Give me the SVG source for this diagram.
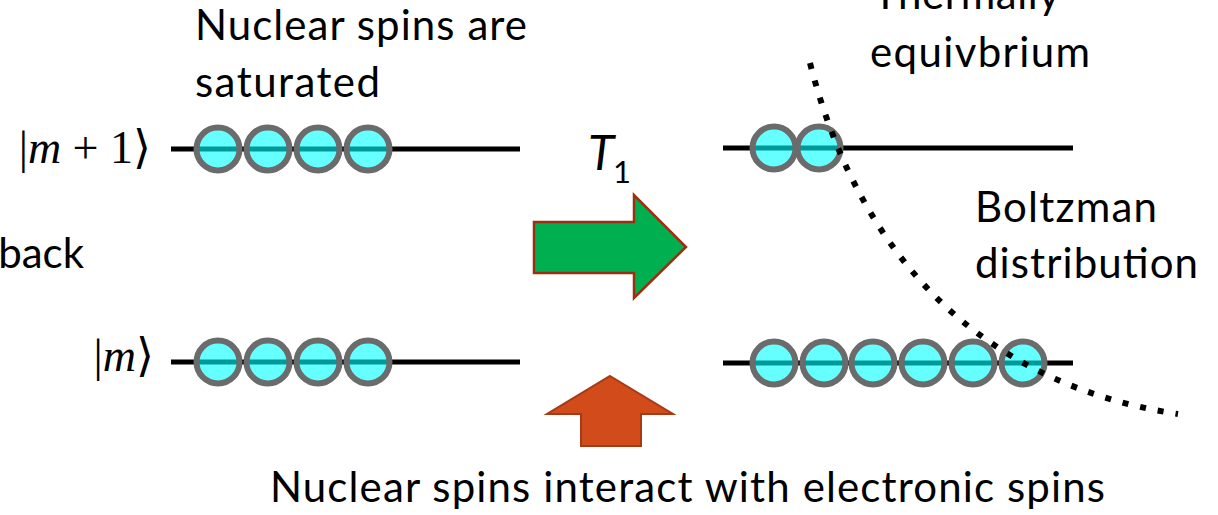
<svg xmlns="http://www.w3.org/2000/svg" width="1218" height="515" viewBox="0 0 1218 515">
  <style>
    .lbl { font-family: Lato, "Open Sans", sans-serif; font-size: 42px; fill: #000; }
    .ket { font-family: "Liberation Serif", "DejaVu Serif", serif; font-size: 46px; fill: #000; }
    .ket .it { font-style: italic; }
    .level { stroke: #000; stroke-width: 5; fill: none; }
    .spin { fill: #00ffff; fill-opacity: 0.6; stroke: #6b6b6b; stroke-width: 6; }
    .curve { fill: none; stroke: #000; stroke-width: 6; stroke-dasharray: 6 12; }
  </style>

  <!-- energy levels before relaxation -->
  <g id="levels-before">
    <line class="level" x1="171" y1="149" x2="520" y2="149"/>
    <line class="level" x1="171" y1="362" x2="520" y2="362"/>
  </g>

  <!-- energy levels after relaxation -->
  <g id="levels-after">
    <line class="level" x1="723" y1="148" x2="1073" y2="148"/>
    <line class="level" x1="723" y1="363" x2="1073" y2="363"/>
  </g>

  <!-- saturated populations: equal occupation of both levels -->
  <g id="spins-upper-saturated">
    <circle class="spin" cx="218" cy="149" r="21.5"/>
    <circle class="spin" cx="268" cy="149" r="21.5"/>
    <circle class="spin" cx="318" cy="149" r="21.5"/>
    <circle class="spin" cx="368" cy="149" r="21.5"/>
  </g>
  <g id="spins-lower-saturated">
    <circle class="spin" cx="218" cy="362" r="21.5"/>
    <circle class="spin" cx="268" cy="362" r="21.5"/>
    <circle class="spin" cx="318" cy="362" r="21.5"/>
    <circle class="spin" cx="368" cy="362" r="21.5"/>
  </g>

  <!-- equilibrium populations -->
  <g id="spins-upper-equilibrium">
    <circle class="spin" cx="774" cy="148" r="21.5"/>
    <circle class="spin" cx="819" cy="148" r="21.5"/>
  </g>
  <g id="spins-lower-equilibrium">
    <circle class="spin" cx="774" cy="363" r="21.5"/>
    <circle class="spin" cx="824" cy="363" r="21.5"/>
    <circle class="spin" cx="873" cy="363" r="21.5"/>
    <circle class="spin" cx="923" cy="363" r="21.5"/>
    <circle class="spin" cx="973" cy="363" r="21.5"/>
    <circle class="spin" cx="1023" cy="363" r="21.5"/>
  </g>

  <!-- state labels -->
  <g id="ket-upper">
    <text class="ket" x="151" y="163" text-anchor="end">|<tspan class="it">m</tspan> + 1⟩</text>
  </g>
  <g id="ket-lower">
    <text class="ket" x="154" y="371" text-anchor="end">|<tspan class="it">m</tspan>⟩</text>
  </g>

  <!-- connectors: relaxation arrow, interaction arrow, population curve -->
  <g id="connectors">
    <polygon id="relax-arrow" points="534,222 634,222 634,195 686,247 634,298 634,273 534,273" fill="#00b050" stroke="#9c2f10" stroke-width="2.5" stroke-linejoin="miter"/>
    <polygon id="interaction-arrow" points="610,376 673,414 641,414 641,446 581,446 581,414 547,414" fill="#d24b1a" stroke="#a63a14" stroke-width="2"/>
    <path id="boltzmann-curve" class="curve" d="M810,63 C860,260 985,385 1178,414"/>
  </g>

  <!-- relaxation time label -->
  <g id="t1-label">
    <text x="588" y="170" font-family="Lato, 'Open Sans', sans-serif" font-style="italic" font-size="48">T</text>
    <text x="613" y="183" font-family="Lato, 'Open Sans', sans-serif" font-size="31">1</text>
  </g>

  <!-- captions -->
  <g id="caption-saturated">
    <text class="lbl" x="195" y="40" textLength="332">Nuclear spins are</text>
    <text class="lbl" x="195" y="97" textLength="185">saturated</text>
  </g>
  <g id="caption-equilibrium">
    <text class="lbl" x="873" y="9" textLength="187">Thermally</text>
    <text class="lbl" x="870" y="67" textLength="220">equivbrium</text>
  </g>
  <g id="caption-boltzmann">
    <text class="lbl" x="975" y="222" textLength="182">Boltzman</text>
    <text class="lbl" x="975" y="278" textLength="223">distribution</text>
  </g>
  <g id="caption-back">
    <text class="lbl" x="84" y="268" text-anchor="end">back</text>
  </g>
  <g id="caption-interaction">
    <text class="lbl" x="270" y="502" textLength="835">Nuclear spins interact with electronic spins</text>
  </g>
</svg>
